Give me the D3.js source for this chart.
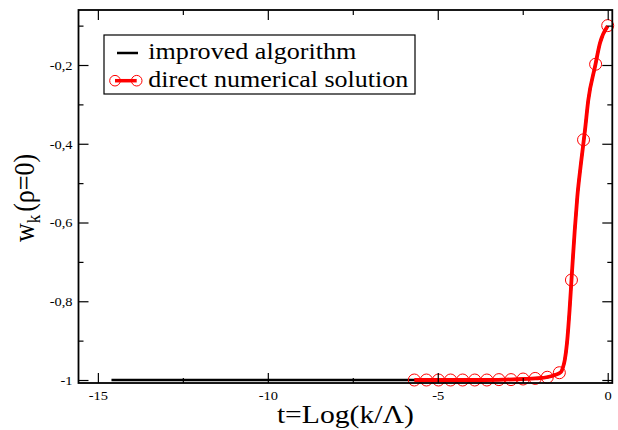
<!DOCTYPE html>
<html>
<head>
<meta charset="utf-8">
<script src="https://cdn.jsdelivr.net/npm/d3@7"></script>
<style>
  html, body { margin: 0; padding: 0; background: #fff; }
  svg { display: block; }
</style>
</head>
<body>
<svg id="chart" width="618" height="430"></svg>
<script>
// ---- data ----
const xMajorTicks = [-15, -10, -5, 0];
const xMinorTicks = [-12.5, -7.5, -2.5];
const yMajorTicks = [-1, -0.8, -0.6, -0.4, -0.2];
const yMinorTicks = [-0.9, -0.7, -0.5, -0.3, -0.1];
const yTickLabels = ["-1", "-0,8", "-0,6", "-0,4", "-0,2"];
const xTickLabels = ["-15", "-10", "-5", "0"];

// improved algorithm (black line)
const blackT = [-14.6, -5.69, -3.6, -3.0, -2.49, -2.13, -1.758, -1.552, -1.375, -1.322, -1.263, -1.198, -1.122, -1.066, -1.028, -0.969, -0.895, -0.786, -0.668, -0.571, -0.374, -0.227, 0];
const blackW = [-1, -1, -1, -0.999, -0.9975, -0.996, -0.9924, -0.9873, -0.9797, -0.9695, -0.9492, -0.906, -0.8222, -0.746, -0.6952, -0.619, -0.5353, -0.4489, -0.3651, -0.2889, -0.2043, -0.1441, -0.101];

// direct numerical solution (red line)
const redT = [-5.69, -3.6, -3.0, -2.49, -2.13, -1.758, -1.552, -1.375, -1.322, -1.263, -1.198, -1.122, -1.066, -1.028, -0.969, -0.895, -0.786, -0.668, -0.571, -0.374, -0.227, 0];
const redW = [-1, -1, -0.999, -0.9975, -0.996, -0.9924, -0.9873, -0.9797, -0.9695, -0.9492, -0.906, -0.8222, -0.746, -0.6952, -0.619, -0.5353, -0.4489, -0.3651, -0.2889, -0.2043, -0.1441, -0.101];

// direct numerical solution markers
const markerT = [-5.69, -5.334, -4.979, -4.623, -4.268, -3.912, -3.556, -3.201, -2.845, -2.49, -2.134, -1.778, -1.423, -1.067, -0.711, -0.356, 0];
const markerW = [-1, -1, -1, -1, -1, -1, -1, -0.999, -0.999, -0.9975, -0.996, -0.993, -0.9815, -0.746, -0.39, -0.198, -0.1];

const legendLabels = ["improved algorithm", "direct numerical solution"];

// ---- layout ----
const FONT = "'Liberation Serif', 'Times New Roman', Times, serif";
const svg = d3.select("#chart");
const L = 78.5, R = 612.3, T = 10, B = 383;
const x = d3.scaleLinear().domain([-15.57, 0.135]).range([L, R]);
const y = d3.scaleLinear().domain([-1.0076, -0.0603]).range([B, T]);

function serif(sel, size) {
  return sel.style("font-family", FONT).style("font-size", size + "px").style("fill", "#000");
}
function stretch(sel, f) {
  sel.each(function () {
    const len = this.getComputedTextLength();
    d3.select(this).attr("textLength", len * f).attr("lengthAdjust", "spacingAndGlyphs");
  });
}
function fitTo(sel, w) {
  sel.attr("textLength", w).attr("lengthAdjust", "spacingAndGlyphs");
}

// ---- data lines ----
const lineB = d3.line().x((d, i) => x(blackT[i])).y((d, i) => y(blackW[i])).curve(d3.curveMonotoneX);
const lineR = d3.line().x((d, i) => x(redT[i])).y((d, i) => y(redW[i])).curve(d3.curveMonotoneX);

svg.append("path").attr("d", lineB(blackT)).attr("fill", "none").attr("stroke", "#000").attr("stroke-width", 2.5);
svg.append("path").attr("d", lineR(redT)).attr("fill", "none").attr("stroke", "#ff0000").attr("stroke-width", 3.8);

svg.append("g").selectAll("circle").data(markerT).join("circle")
  .attr("cx", (d) => x(d)).attr("cy", (d, i) => y(markerW[i]))
  .attr("r", 6).attr("fill", "none").attr("stroke", "#ff0000").attr("stroke-width", 1);

// ---- axes ----
const tickStyle = (g) => {
  g.select(".domain").remove();
  g.selectAll(".tick line").attr("stroke", "#000").attr("stroke-width", 1.2);
};
const fmtX = (d) => xTickLabels[xMajorTicks.indexOf(d)];
const fmtY = (d) => yTickLabels[yMajorTicks.indexOf(d)];

const gxb = svg.append("g").attr("transform", `translate(0,${B})`)
  .call(d3.axisBottom(x).tickValues(xMajorTicks).tickFormat(fmtX).tickSize(-10).tickPadding(7.5)).call(tickStyle);
serif(gxb.selectAll("text"), 13.5);
stretch(gxb.selectAll("text"), 1.07);
svg.append("g").attr("transform", `translate(0,${B})`)
  .call(d3.axisBottom(x).tickValues(xMinorTicks).tickFormat("").tickSize(-5)).call(tickStyle);
svg.append("g").attr("transform", `translate(0,${T})`)
  .call(d3.axisTop(x).tickValues(xMajorTicks).tickFormat("").tickSize(-10)).call(tickStyle);
svg.append("g").attr("transform", `translate(0,${T})`)
  .call(d3.axisTop(x).tickValues(xMinorTicks).tickFormat("").tickSize(-5)).call(tickStyle);

const gyl = svg.append("g").attr("transform", `translate(${L},0)`)
  .call(d3.axisLeft(y).tickValues(yMajorTicks).tickFormat(fmtY).tickSize(-10).tickPadding(6)).call(tickStyle);
serif(gyl.selectAll("text"), 13.5);
stretch(gyl.selectAll("text"), 1.07);
svg.append("g").attr("transform", `translate(${L},0)`)
  .call(d3.axisLeft(y).tickValues(yMinorTicks).tickFormat("").tickSize(-5)).call(tickStyle);
svg.append("g").attr("transform", `translate(${R},0)`)
  .call(d3.axisRight(y).tickValues(yMajorTicks).tickFormat("").tickSize(-10)).call(tickStyle);
svg.append("g").attr("transform", `translate(${R},0)`)
  .call(d3.axisRight(y).tickValues(yMinorTicks).tickFormat("").tickSize(-5)).call(tickStyle);

// frame
svg.append("rect").attr("x", L).attr("y", T).attr("width", R - L).attr("height", B - T)
  .attr("fill", "none").attr("stroke", "#000").attr("stroke-width", 1.8);

// ---- axis titles ----
const xt = serif(svg.append("text"), 25).attr("x", (L + R) / 2).attr("y", 423).attr("text-anchor", "middle")
  .text("t=Log(k/Λ)");
fitTo(xt, 137);

const yt = serif(svg.append("text"), 26).attr("text-anchor", "middle")
  .attr("transform", "translate(33.5,198) rotate(-90) scale(1,1.15)");
yt.append("tspan").text("w");
yt.append("tspan").style("font-size", "17px").attr("dy", 6).text("k");
yt.append("tspan").attr("dy", -6).attr("dx", 3).text("(ρ=0)");

// ---- legend ----
const lg = svg.append("g");
lg.append("rect").attr("x", 104).attr("y", 35).attr("width", 311).attr("height", 59)
  .attr("fill", "#fff").attr("stroke", "#000").attr("stroke-width", 1.2);
lg.append("line").attr("x1", 117).attr("x2", 138).attr("y1", 53).attr("y2", 53)
  .attr("stroke", "#000").attr("stroke-width", 2.5);
lg.append("line").attr("x1", 115).attr("x2", 136.7).attr("y1", 80.7).attr("y2", 80.7)
  .attr("stroke", "#ff0000").attr("stroke-width", 3.5);
lg.selectAll("circle.lm").data([115, 136.7]).join("circle").attr("class", "lm")
  .attr("cx", (d) => d).attr("cy", 80.7).attr("r", 5.3)
  .attr("fill", "none").attr("stroke", "#ff0000").attr("stroke-width", 1);
const t1 = serif(lg.append("text"), 23).attr("x", 148.3).attr("y", 58.5).text(legendLabels[0]);
fitTo(t1, 208);
const t2 = serif(lg.append("text"), 23).attr("x", 148.3).attr("y", 87).text(legendLabels[1]);
fitTo(t2, 260);
</script>
</body>
</html>
